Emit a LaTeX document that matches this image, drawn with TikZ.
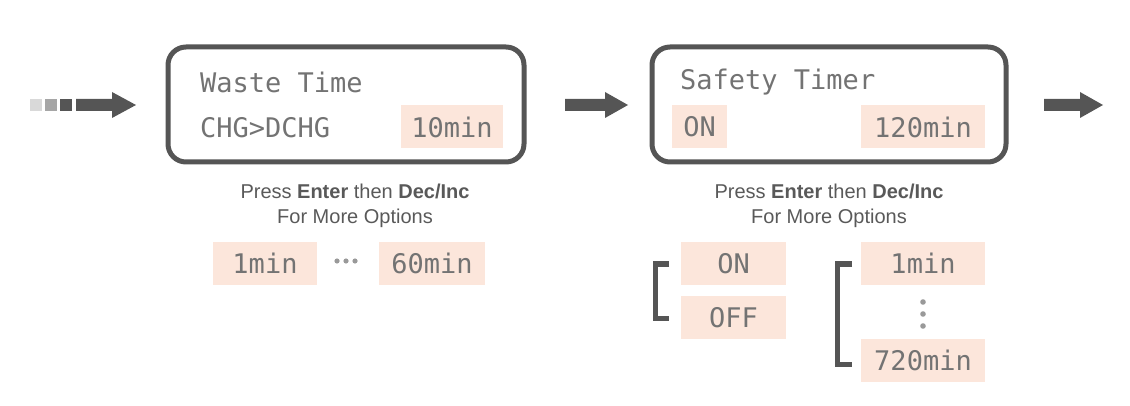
\documentclass[tikz,border=0pt]{standalone}
\usepackage{fontspec}
\setmainfont{Liberation Sans}
\newfontfamily\lcd{DejaVu Sans Mono}
\begin{document}
\begin{tikzpicture}[x=1pt,y=-1pt,
  lcdt/.style={font=\lcd\fontsize{27}{30}\selectfont, text=black!55, inner sep=0pt},
  hl/.style={fill=hlc, draw=none, minimum height=43pt, inner sep=0pt, font=\lcd\fontsize{27}{30}\selectfont, text=black!55},
  screen/.style={draw=dk, line width=5pt, rounded corners=18pt},
  info/.style={font=\fontsize{20}{24}\selectfont, text=black!65, align=center},
  brk/.style={draw=dk, line width=5pt},
  bigarrow/.style={fill=dk, draw=none}]
\definecolor{dk}{HTML}{555555}
\definecolor{hlc}{HTML}{FCE6DB}
\useasboundingbox (0,0) rectangle (1130,406);
% left arrow
\fill[black!15] (30,99) rectangle (42,111);
\fill[black!35] (45,99) rectangle (57,111);
\fill[dk] (60,99) rectangle (72,111);
\fill[dk] (76,99) -- (112,99) -- (112,92) -- (136,105) -- (112,118) -- (112,111) -- (76,111) -- cycle;
% box 1
\node[screen, minimum width=356pt, minimum height=115pt] (s1) at (346,104.5) {};
\node[lcdt, anchor=west] (w1) at (200,82) {Waste Time};
\node[lcdt, anchor=west] (w2) at (200,128) {CHG>DCHG};
\node[hl, minimum width=102pt] (v1) at (452,127) {10min};
\node[info] (t1) at (355,191) {Press \textbf{Enter} then \textbf{Dec/Inc}};
\node[info] (t2) at (355,218) {For More Options};
\node[hl, minimum width=104pt] (o1) at (265,263.5) {1min};
\node[hl, minimum width=106pt] (o2) at (432,263.5) {60min};
\foreach \x in {337,346,355} \fill[black!40] (\x,261) circle (2.6pt);
% arrow 2
\fill[dk] (565,99) -- (605,99) -- (605,92) -- (628,105) -- (605,118) -- (605,111) -- (565,111) -- cycle;
% box 2
\node[screen, minimum width=354pt, minimum height=115pt] (s2) at (829,104.5) {};
\node[lcdt, anchor=west] (w3) at (680,82) {Safety Timer};
\node[hl, minimum width=55pt] (v2) at (699.5,127) {ON};
\node[hl, minimum width=124pt] (v3) at (923,127) {120min};
\node[info] (t3) at (829,191) {Press \textbf{Enter} then \textbf{Dec/Inc}};
\node[info] (t4) at (829,218) {For More Options};
\node[hl, minimum width=105pt] (p1) at (733.5,263.5) {ON};
\node[hl, minimum width=105pt] (p2) at (733.5,317.5) {OFF};
\draw[brk] (669,264) -- (655,264) -- (655,318) -- (669,318);
\node[hl, minimum width=124pt] (q1) at (923,263.5) {1min};
\node[hl, minimum width=124pt] (q2) at (923,360.5) {720min};
\foreach \y in {302,314,326} \fill[black!40] (923,\y) circle (2.8pt);
\draw[brk] (852,264) -- (837,264) -- (837,364) -- (852,364);
% arrow 3
\fill[dk] (1044,99) -- (1080,99) -- (1080,92) -- (1103,105) -- (1080,118) -- (1080,111) -- (1044,111) -- cycle;
\end{tikzpicture}
\end{document}
